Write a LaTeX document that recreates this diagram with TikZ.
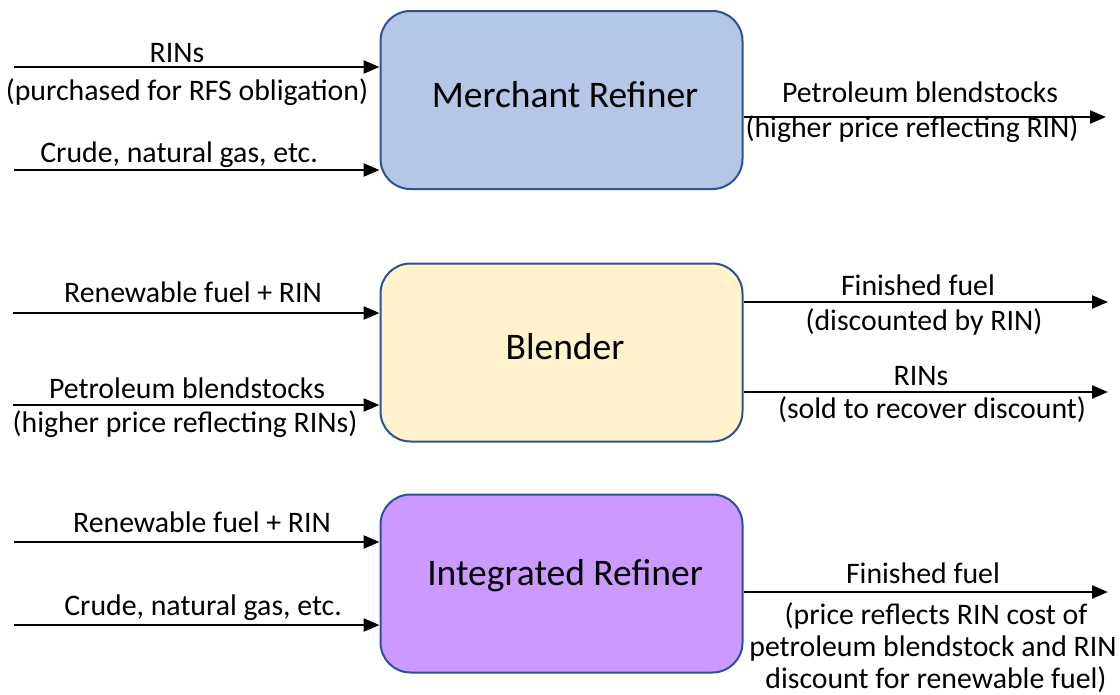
\documentclass[tikz,border=0pt]{standalone}
\usepackage{fontspec}
\setmainfont{Carlito}
\usetikzlibrary{arrows.meta}
\definecolor{bluefill}{HTML}{B4C7E7}
\definecolor{yellowfill}{HTML}{FFF2CC}
\definecolor{purplefill}{HTML}{CC99FF}
\definecolor{boxedge}{HTML}{2F528F}
\begin{document}
\begin{tikzpicture}[x=1pt,y=-1pt,
  box/.style={draw=boxedge, line width=2pt, rounded corners=30pt,
    minimum width=362pt, minimum height=178pt, inner sep=0pt},
  boxtext/.style={font=\fontsize{37.5}{45}\selectfont, inner sep=0pt, anchor=base},
  lab/.style={font=\fontsize{29.8}{34}\selectfont, inner sep=0pt, anchor=base},
  arr/.style={line width=2.4pt, -{Triangle[length=16pt,width=13pt]}}]
\useasboundingbox (0,0) rectangle (1120,694);

% boxes
\node[box, fill=bluefill]   (m) at (561.5,100) {};
\node[box, fill=yellowfill] (b) at (561.5,352.5) {};
\node[box, fill=purplefill] (r) at (561.5,583.5) {};
\node[boxtext] (mt) at (565,107) {Merchant Refiner};
\node[boxtext] (bt) at (565,359) {Blender};
\node[boxtext] (rt) at (565,585) {Integrated Refiner};

% merchant refiner
\coordinate (m1) at (14,67);
\coordinate (m2) at (14,170);
\coordinate (m3) at (1106,117);
\draw[arr] (m1) -- (m1 -| m.west);
\draw[arr] (m2) -- (m2 -| m.west);
\draw[arr] (m3 -| m.east) -- (m3);
\node[lab] (m1a) at (177,62) {RINs};
\node[lab] (m1b) at (187,100) {(purchased for RFS obligation)};
\node[lab] (m2a) at (179,162) {Crude, natural gas, etc.};
\node[lab] (m3a) at (920,102) {Petroleum blendstocks};
\node[lab] (m3b) at (912,137) {(higher price reflecting RIN)};

% blender
\coordinate (b1) at (13,313);
\coordinate (b2) at (13,405);
\coordinate (b3) at (1108,302);
\coordinate (b4) at (1108,392);
\draw[arr] (b1) -- (b1 -| b.west);
\draw[arr] (b2) -- (b2 -| b.west);
\draw[arr] (b3 -| b.east) -- (b3);
\draw[arr] (b4 -| b.east) -- (b4);
\node[lab] (b1a) at (193,302) {Renewable fuel + RIN};
\node[lab] (b2a) at (187,398) {Petroleum blendstocks};
\node[lab] (b2b) at (185,432) {(higher price reflecting RINs)};
\node[lab] (b3a) at (918,295) {Finished fuel};
\node[lab] (b3b) at (924,330) {(discounted by RIN)};
\node[lab] (b4a) at (921,385) {RINs};
\node[lab] (b4b) at (932,418) {(sold to recover discount)};

% integrated refiner
\coordinate (r1) at (14,542);
\coordinate (r2) at (14,625);
\coordinate (r3) at (1108,592);
\draw[arr] (r1) -- (r1 -| r.west);
\draw[arr] (r2) -- (r2 -| r.west);
\draw[arr] (r3 -| r.east) -- (r3);
\node[lab] (r1a) at (202,532) {Renewable fuel + RIN};
\node[lab] (r2a) at (203,615) {Crude, natural gas, etc.};
\node[lab] (r3a) at (923,583) {Finished fuel};
\node[lab] (r3b) at (936,624) {(price reflects RIN cost of};
\node[lab] (r3c) at (933,656.5) {petroleum blendstock and RIN};
\node[lab] (r3d) at (936,688.5) {discount for renewable fuel)};
\end{tikzpicture}
\end{document}
